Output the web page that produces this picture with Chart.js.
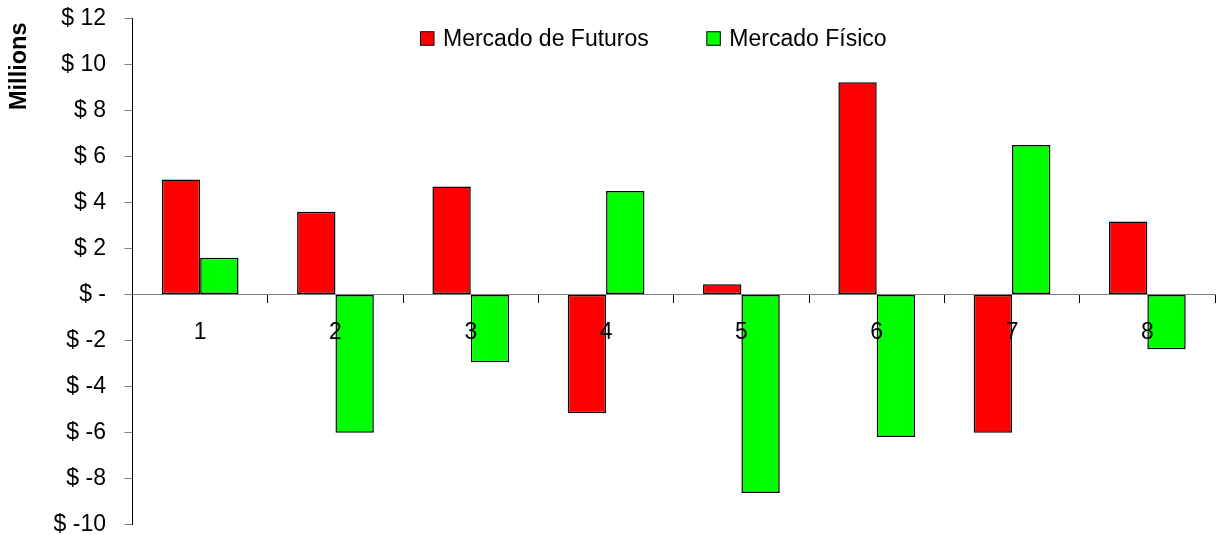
<!DOCTYPE html>
<html>
<head>
<meta charset="utf-8">
<script src="https://cdn.jsdelivr.net/npm/chart.js@4/dist/chart.umd.min.js"></script>
<style>
  html, body { margin: 0; padding: 0; background: #ffffff; }
  #wrap { width: 1217px; height: 535px; }
</style>
</head>
<body>
<div id="wrap"><canvas id="chart" width="1217" height="535"></canvas></div>
<script>
// Categories (periods) and the result of each market, in millions of dollars
const categories = ['1', '2', '3', '4', '5', '6', '7', '8'];
const futuros = [5.0, 3.6, 4.7, -5.17, 0.45, 9.24, -6.02, 3.18];
const fisico = [1.6, -6.02, -2.95, 4.5, -8.64, -6.2, 6.5, -2.38];
const seriesNames = ['Mercado de Futuros', 'Mercado Físico'];
const seriesColors = ['#ff0000', '#00ff00'];
const yTicks = [-10, -8, -6, -4, -2, 0, 2, 4, 6, 8, 10, 12];
const yTitle = 'Millions';

const FONT = "'Liberation Sans', Arial, sans-serif";

// Legend across the top of the plot and the rotated unit label on the left
const decorations = {
  id: 'decorations',
  afterDraw(chart) {
    const ctx = chart.ctx;
    ctx.save();
    ctx.font = '23px ' + FONT;
    ctx.textBaseline = 'middle';
    ctx.textAlign = 'left';
    let x = 420.5;
    const cy = 38.5;
    const box = 13.5;
    chart.data.datasets.forEach((ds) => {
      ctx.fillStyle = ds.backgroundColor;
      ctx.fillRect(x, cy - box / 2, box, box);
      ctx.strokeStyle = '#000000';
      ctx.lineWidth = 1;
      ctx.strokeRect(x, cy - box / 2, box, box);
      ctx.fillStyle = '#000000';
      ctx.fillText(ds.label, x + box + 9, cy + 1);
      x += box + 9 + ctx.measureText(ds.label).width + 58;
    });

    // unit title, rotated, near the top of the value axis
    ctx.translate(19.5, 110);
    ctx.rotate(-Math.PI / 2);
    ctx.font = 'bold 23.5px ' + FONT;
    ctx.textAlign = 'left';
    ctx.textBaseline = 'middle';
    ctx.fillStyle = '#000000';
    ctx.fillText(yTitle, 0, 0);
    ctx.restore();
  }
};

new Chart(document.getElementById('chart'), {
  type: 'bar',
  data: {
    labels: categories,
    datasets: [
      {
        label: seriesNames[0],
        data: futuros,
        backgroundColor: seriesColors[0],
        borderColor: '#000000',
        borderWidth: 1.5,
        borderSkipped: false,
        categoryPercentage: 0.567,
        barPercentage: 1.0
      },
      {
        label: seriesNames[1],
        data: fisico,
        backgroundColor: seriesColors[1],
        borderColor: '#000000',
        borderWidth: 1.5,
        borderSkipped: false,
        categoryPercentage: 0.567,
        barPercentage: 1.0
      }
    ]
  },
  options: {
    responsive: false,
    animation: false,
    devicePixelRatio: 1,
    layout: { padding: { left: 0, right: 2, top: 18.7, bottom: 10.7 } },
    plugins: {
      legend: { display: false },
      tooltip: { enabled: false }
    },
    scales: {
      x: {
        type: 'category',
        position: { y: 0 },
        grid: {
          offset: true,
          drawOnChartArea: false,
          drawTicks: true,
          tickLength: 8,
          color: '#000000'
        },
        border: { display: true, color: '#808080', width: 1 },
        ticks: {
          font: { family: FONT, size: 23 },
          color: '#000000',
          padding: 16,
          maxRotation: 0,
          autoSkip: false,
          z: 1
        },
        afterFit(scale) {
          scale.paddingLeft = 0;
          scale.paddingRight = 0;
        }
      },
      y: {
        min: yTicks[0],
        max: yTicks[yTicks.length - 1],
        afterBuildTicks(scale) {
          scale.ticks = yTicks.map(v => ({ value: v }));
        },
        afterFit(scale) {
          scale.width = 132.5;
          scale.paddingTop = 0;
          scale.paddingBottom = 0;
        },
        grid: {
          drawOnChartArea: false,
          drawTicks: true,
          tickLength: 8,
          color: '#808080'
        },
        border: { display: true, color: '#000000', width: 1 },
        ticks: {
          font: { family: FONT, size: 23 },
          color: '#000000',
          padding: 18.5,
          callback: (v) => (v === 0 ? '$ -' : '$ ' + v)
        }
      }
    }
  },
  plugins: [decorations]
});
</script>
</body>
</html>
